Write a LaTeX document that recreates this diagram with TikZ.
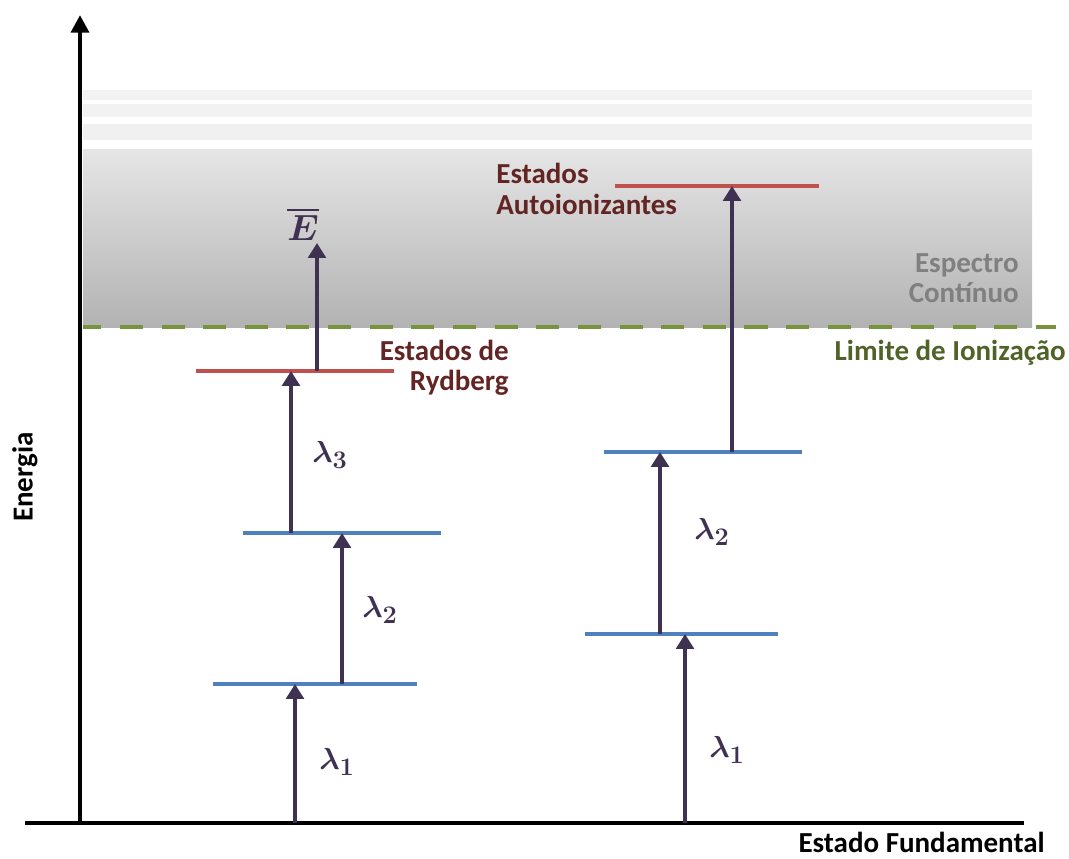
\documentclass[tikz,border=0pt]{standalone}
\usepackage{fontspec}
\setmainfont{Carlito}
\usepackage{amsmath,bm}
\usetikzlibrary{arrows.meta}

\definecolor{nivelazul}{HTML}{4F81BD}
\definecolor{nivelverm}{HTML}{C0504D}
\definecolor{seta}{HTML}{3F3151}
\definecolor{limite}{HTML}{77933C}
\definecolor{limitetxt}{HTML}{4F6228}
\definecolor{estadotxt}{HTML}{632523}

\begin{document}
\begin{tikzpicture}[x=0.02cm,y=-0.02cm,
  nivel/.style={line width=2.3pt,nivelazul},
  nivelr/.style={line width=2.3pt,nivelverm},
  foton/.style={seta,line width=2.8pt,-{Triangle[width=10pt,length=8.5pt]}},
  lam/.style={seta,font=\fontsize{19}{22}\selectfont},
  rotulo/.style={font=\bfseries\fontsize{16.5}{17.2}\selectfont,inner sep=0pt}]
  \useasboundingbox (0,0) rectangle (1069,859);

  % continuo e faixas acima
  \fill[black!5] (83,90) rectangle (1032,100);
  \fill[black!5] (83,104) rectangle (1032,117);
  \fill[black!6] (83,124) rectangle (1032,140);
  \shade[top color=black!10,bottom color=black!30] (83,149) rectangle (1032,327);
  \draw[limite,line width=2.8pt,dash pattern=on 13.1pt off 10.6pt,dash phase=2.7pt] (83,327) -- (1056,327);

  % eixos
  \draw[line width=2.3pt] (25,823) -- (1024,823);
  \draw[line width=2.8pt,-{Triangle[width=10pt,length=10pt]}] (80,823) -- (80,15);

  % niveis
  \coordinate (a1w) at (213,684); \coordinate (a1e) at (417,684);
  \coordinate (a2w) at (243,533); \coordinate (a2e) at (441,533);
  \coordinate (ryw) at (196,371); \coordinate (rye) at (394,371);
  \coordinate (b1w) at (585,634); \coordinate (b1e) at (778,634);
  \coordinate (b2w) at (604,452); \coordinate (b2e) at (802,452);
  \coordinate (auw) at (615,186); \coordinate (aue) at (819,186);
  \draw[nivel] (a1w) -- (a1e);
  \draw[nivel] (a2w) -- (a2e);
  \draw[nivelr] (ryw) -- (rye);
  \draw[nivel] (b1w) -- (b1e);
  \draw[nivel] (b2w) -- (b2e);
  \draw[nivelr] (auw) -- (aue);

  % excitacao em tres passos
  \coordinate (ga) at (295,823);
  \coordinate (a1s) at (342,684);
  \coordinate (a2s) at (291,533);
  \coordinate (rys) at (317,371);
  \coordinate (etop) at (317,243);
  \draw[foton] (ga) -- (ga |- a1w);
  \draw[foton] (a1s) -- (a1s |- a2w);
  \draw[foton] (a2s) -- (a2s |- ryw);
  \draw[foton] (rys) -- (etop);
  \node[lam] (l1a) at (337,762) {$\bm{\lambda}_{\bm{1}}$};
  \node[lam] (l2a) at (380,610) {$\bm{\lambda}_{\bm{2}}$};
  \node[lam] (l3a) at (330,455) {$\bm{\lambda}_{\bm{3}}$};
  \node[lam,font=\fontsize{21}{24}\selectfont] (ebar) at (303,224) {$\overline{\bm{E}}$};

  % excitacao em dois passos
  \coordinate (gb) at (685,823);
  \coordinate (b1s) at (660,634);
  \coordinate (b2s) at (732,452);
  \draw[foton] (gb) -- (gb |- b1w);
  \draw[foton] (b1s) -- (b1s |- b2w);
  \draw[foton] (b2s) -- (b2s |- auw);
  \node[lam] (l1b) at (727,750) {$\bm{\lambda}_{\bm{1}}$};
  \node[lam] (l2b) at (712,532) {$\bm{\lambda}_{\bm{2}}$};

  % textos
  \node[rotulo,estadotxt,align=right,anchor=east] (ryd) at (509,368) {Estados de\\Rydberg};
  \node[rotulo,estadotxt,align=left,anchor=west] (auto) at (496,189) {Estados\\Autoionizantes};
  \node[rotulo,black!50,align=right,anchor=east] (cont) at (1019,278) {Espectro\\Contínuo};
  \node[rotulo,limitetxt,anchor=east] (lim) at (1066,353) {Limite de Ionização};
  \node[rotulo,anchor=base east] (fund) at (1045,852) {Estado Fundamental};
  \node[rotulo,rotate=90] (en) at (25,477) {Energia};
\end{tikzpicture}
\end{document}
